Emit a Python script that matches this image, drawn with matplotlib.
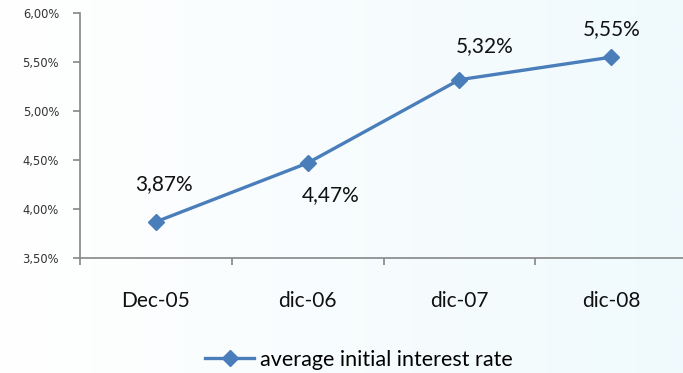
import numpy as np
import matplotlib
matplotlib.use("Agg")
import matplotlib.pyplot as plt
from matplotlib.lines import Line2D
from matplotlib.ticker import FuncFormatter

categories = ["Dec-05", "dic-06", "dic-07", "dic-08"]
rates = [3.87, 4.47, 5.32, 5.55]
label_offsets = [(8, 38), (23, -32), (25, 34), (0, 28)]  # pixel offsets for value labels
series_name = "average initial interest rate"

LINE_BLUE = "#4a7ebb"
AXIS_GRAY = "#868686"
LABEL_FONT = ["Lato", "DejaVu Sans"]

fig = plt.figure(figsize=(6.83, 3.73), dpi=100)

# soft white-to-cyan background
bg = fig.add_axes([0, 0, 1, 1], zorder=-10)
grad = np.linspace(0, 1, 256)[None, :]
bg.imshow(grad, aspect="auto", extent=[0, 1, 0, 1],
          cmap=matplotlib.colors.LinearSegmentedColormap.from_list(
              "bgc", ["#ffffff", "#f0fafd"]))
bg.set_axis_off()

ax = fig.add_axes([0.117, 0.308, 0.889, 0.657])
ax.patch.set_alpha(0)

x = np.arange(len(categories))
ax.plot(x, rates, color=LINE_BLUE, lw=2.4, marker="D", ms=8,
        markerfacecolor=LINE_BLUE, markeredgecolor=LINE_BLUE, zorder=3)

for xi, v, (dx, dy) in zip(x, rates, label_offsets):
    ax.annotate(f"{v:.2f}%".replace(".", ","), (xi, v),
                xytext=(dx * 0.72, dy * 0.72), textcoords="offset points",
                ha="center", va="center", fontsize=15, family=LABEL_FONT,
                color="#111111")

ax.set_xlim(-0.5, len(categories) - 0.5)
ax.set_ylim(3.5, 6.0)
ax.set_yticks(np.arange(3.5, 6.01, 0.5))
ax.yaxis.set_major_formatter(FuncFormatter(lambda v, _: f"{v:.2f}%".replace(".", ",")))
ax.set_xticks(x)
ax.set_xticklabels(categories, family=LABEL_FONT, fontsize=15)
ax.set_xticks(np.arange(-0.5, len(categories) + 0.5, 1), minor=True)

for s in ["top", "right"]:
    ax.spines[s].set_visible(False)
for s in ["left", "bottom"]:
    ax.spines[s].set_color(AXIS_GRAY)
    ax.spines[s].set_linewidth(1.2)

ax.tick_params(axis="y", direction="out", length=5, width=1.2, color=AXIS_GRAY,
               labelsize=8.3, labelcolor="#333333", pad=10)
ax.tick_params(axis="x", which="major", length=0, pad=24, labelcolor="#111111")
ax.tick_params(axis="x", which="minor", direction="out", length=5, width=1.2,
               color=AXIS_GRAY)

handle = Line2D([], [], color=LINE_BLUE, lw=2.4, marker="D", ms=8)
fig.legend([handle], [series_name], loc="center", bbox_to_anchor=(0.525, 0.035),
           frameon=False, prop={"family": LABEL_FONT, "size": 15.5},
           handlelength=2.3, handletextpad=0.25)

fig.savefig("out.png", dpi=100)
